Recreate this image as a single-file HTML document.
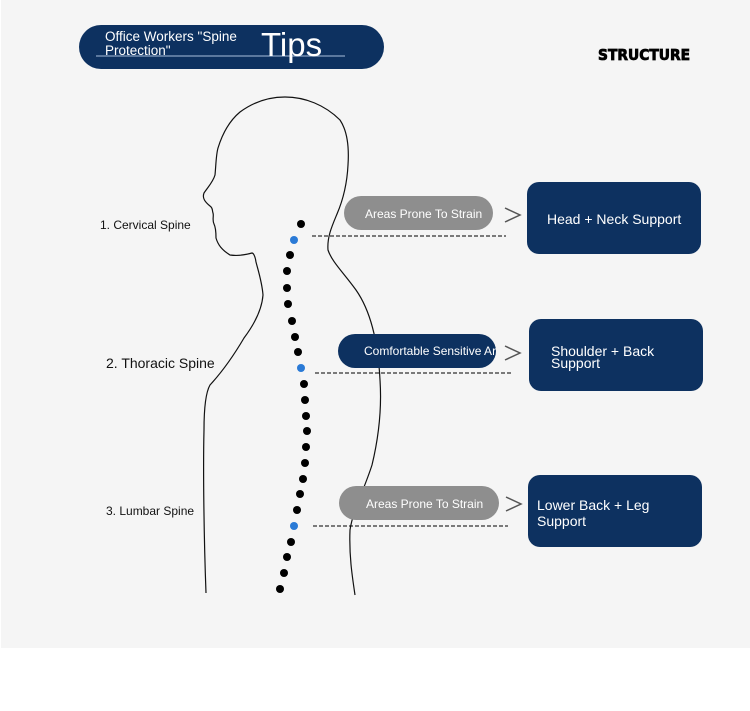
<!DOCTYPE html>
<html><head><meta charset="utf-8"><style>
html,body{margin:0;padding:0;background:#fff;}
body{width:750px;height:711px;position:relative;overflow:hidden;font-family:"Liberation Sans",sans-serif;}
</style></head><body>
<svg width="750" height="711" viewBox="0 0 750 711" xmlns="http://www.w3.org/2000/svg" style="position:absolute;left:0;top:0">
<rect x="1" y="0" width="749" height="648" fill="#f5f5f5"/>
<!-- header pill -->
<rect x="79" y="25" width="305" height="44" rx="22" fill="#0d3160"/>
<line x1="96" y1="56" x2="345" y2="56" stroke="#8aa3c2" stroke-width="1.2"/>
<text x="105" y="41" font-size="13.5" fill="#fff">Office Workers "Spine</text>
<text x="105" y="55" font-size="13.5" fill="#fff">Protection"</text>
<text x="261" y="56" font-size="33" fill="#fff">Tips</text>
<text x="598" y="60" font-size="15" font-weight="bold" fill="#000" stroke="#000" stroke-width="0.8" textLength="92" lengthAdjust="spacingAndGlyphs" font-family="DejaVu Sans, sans-serif">STRUCTURE</text>
<!-- body outline -->
<path d="M206,593 C204,540 203,470 204,430 C204,405 206,392 210,385 C222,372 234,355 244,338 C256,322 262,308 263,295 C262,282 258,270 256,262 C255,255 253,253 252,253 C245,255 237,256 230,255 C222,250 218,245 216,238 C216,230 215,226 214,224 C212,220 214,216 213,213 C212,210 213,208 210,206 C205,202 202,198 204,193 C208,187 213,182 215,175 C216,165 216,155 218,148 C222,135 228,122 240,112 C255,101 270,97 285,97 C305,97 325,105 340,120 C348,132 349,150 348,165 C347,185 343,200 337,214 C332,226 327,237 328,250 C332,262 343,272 356,290 C370,310 378,340 380,380 C382,410 378,440 372,465 C364,490 353,510 350,530 C349,555 352,575 355,595" fill="none" stroke="#111" stroke-width="1.2"/>
<!-- spine dots -->
<g fill="#000">
<circle cx="301" cy="224" r="4"/>
<circle cx="290" cy="255" r="4"/><circle cx="287" cy="271" r="4"/><circle cx="287" cy="288" r="4"/><circle cx="288" cy="304" r="4"/><circle cx="292" cy="321" r="4"/><circle cx="295" cy="337" r="4"/><circle cx="298" cy="352" r="4"/>
<circle cx="304" cy="384" r="4"/><circle cx="305" cy="400" r="4"/><circle cx="306" cy="416" r="4"/><circle cx="307" cy="431" r="4"/><circle cx="306" cy="447" r="4"/><circle cx="305" cy="463" r="4"/><circle cx="303" cy="479" r="4"/><circle cx="300" cy="494" r="4"/><circle cx="297" cy="510" r="4"/>
<circle cx="291" cy="542" r="4"/><circle cx="287" cy="557" r="4"/><circle cx="284" cy="573" r="4"/><circle cx="280" cy="589" r="4"/>
</g>
<g fill="#2a7ad6">
<circle cx="294" cy="240" r="4"/><circle cx="301" cy="368" r="4"/><circle cx="294" cy="526" r="4"/>
</g>
<!-- labels left -->
<text x="100" y="229" font-size="12" fill="#111">1. Cervical Spine</text>
<text x="106" y="368" font-size="14" fill="#111">2. Thoracic Spine</text>
<text x="106" y="515" font-size="12" fill="#111">3. Lumbar Spine</text>
<!-- dashed lines -->
<g stroke="#000" stroke-width="1" stroke-dasharray="4,2">
<line x1="312" y1="236" x2="506" y2="236"/>
<line x1="315" y1="373" x2="511" y2="373"/>
<line x1="313" y1="526" x2="508" y2="526"/>
</g>
<!-- pills -->
<rect x="344" y="196" width="149" height="34" rx="17" fill="#8e8e8e"/>
<text x="365" y="218" font-size="12" fill="#fff">Areas Prone To Strain</text>
<rect x="338" y="334" width="158" height="34" rx="17" fill="#0d3160"/>
<svg x="338" y="334" width="158" height="34"><text x="26" y="21" font-size="12" fill="#fff">Comfortable Sensitive Areas</text></svg>
<rect x="339" y="486" width="160" height="34" rx="17" fill="#8e8e8e"/>
<text x="366" y="508" font-size="12" fill="#fff">Areas Prone To Strain</text>
<!-- chevrons -->
<g fill="none" stroke="#555" stroke-width="1.5">
<polyline points="505,208 520,215 505,222"/>
<polyline points="505,346 520,353 505,360"/>
<polyline points="506,497 521,504 506,511"/>
</g>
<!-- boxes -->
<rect x="527" y="182" width="174" height="72" rx="12" fill="#0d3160"/>
<text x="547" y="224" font-size="14" fill="#fff">Head + Neck Support</text>
<rect x="529" y="319" width="174" height="72" rx="12" fill="#0d3160"/>
<text x="551" y="356" font-size="14" fill="#fff">Shoulder + Back</text>
<text x="551" y="368" font-size="14" fill="#fff">Support</text>
<rect x="528" y="475" width="174" height="72" rx="12" fill="#0d3160"/>
<text x="537" y="510" font-size="14" fill="#fff">Lower Back + Leg</text>
<text x="537" y="526" font-size="14" fill="#fff">Support</text>
</svg>
</body></html>
